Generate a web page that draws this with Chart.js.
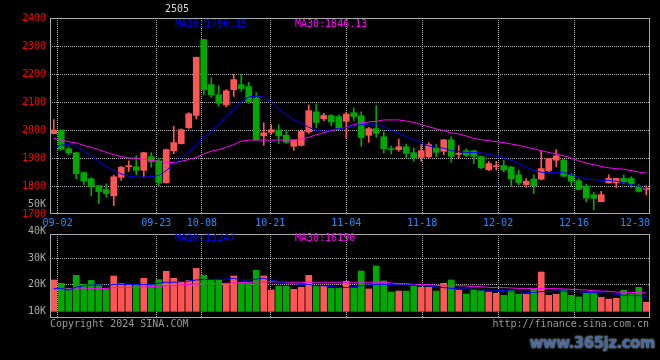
<!DOCTYPE html>
<html>
<head>
<meta charset="utf-8">
<script src="https://cdn.jsdelivr.net/npm/chart.js@4.4.1/dist/chart.umd.min.js"></script>
<style>
  html, body { margin: 0; padding: 0; background: #000; }
  #wrap { position: relative; width: 660px; height: 360px; overflow: hidden; background: #000;
          font-family: "DejaVu Sans Mono", monospace; font-size: 10px; }
  canvas { position: absolute; left: 0; }
  #price { top: 0; }
  #vol { top: 190px; }
  .t { position: absolute; white-space: pre; line-height: 12px; }
</style>
</head>
<body>
<div id="wrap">
  <canvas id="price" width="660" height="232"></canvas>
  <canvas id="vol" width="660" height="170"></canvas>
  <div class="t" style="left:165px;top:3px;color:#d8d8d8">2505</div>
  <div class="t" style="left:175px;top:18px;color:#0000ff">MA10:1790.15</div>
  <div class="t" style="left:295px;top:18px;color:#ff00ff">MA30:1846.13</div>
  <div class="t" style="left:175px;top:232px;color:#0000ff">MA10:13247</div>
  <div class="t" style="left:295px;top:232px;color:#ff00ff">MA30:16190</div>
  <div class="t" style="left:50px;top:318px;color:#999">Copyright 2024 SINA.COM</div>
  <div class="t" style="right:11px;top:318px;color:#999">http://finance.sina.com.cn</div>
  <div class="t" style="right:5px;top:334px;font:bold 15px 'DejaVu Sans';letter-spacing:-0.5px;line-height:18px;color:#46689c;text-shadow:0 0 2px #ccc">www.365jz.com</div>
</div>
<script>
// trading days shown, one candle each
const dates = ['08-30','09-02','09-03','09-04','09-05','09-06','09-09','09-10','09-11','09-12',
  '09-13','09-18','09-19','09-20','09-23','09-24','09-25','09-26','09-27','09-30',
  '10-08','10-09','10-10','10-11','10-14','10-15','10-16','10-17','10-18','10-21',
  '10-22','10-23','10-24','10-25','10-28','10-29','10-30','10-31','11-01','11-04',
  '11-05','11-06','11-07','11-08','11-11','11-12','11-13','11-14','11-15','11-18',
  '11-19','11-20','11-21','11-22','11-25','11-26','11-27','11-28','11-29','12-02',
  '12-03','12-04','12-05','12-06','12-09','12-10','12-11','12-12','12-13','12-16',
  '12-17','12-18','12-19','12-20','12-23','12-24','12-25','12-26','12-27','12-30'];

const opens = [1987,2000,1933,1919,1848,1826,1801,1787,1765,1831, 1869,1869,1856,1905,1890,1812,1926,1951,2008,2052,
  2323,2162,2126,2090,2144,2162,2155,2114,1979,1992, 2000,1981,1942,1945,1993,2065,2040,2052,2048,2031,
  2062,2051,1981,2005,1976,1931,1930,1940,1919,1902, 1905,1936,1924,1965,1913,1926,1926,1905,1858,1869,
  1873,1868,1840,1805,1825,1824,1855,1892,1893,1840, 1819,1800,1769,1744,1811,1811,1827,1827,1798,1788];
const highs = [2037,2000,1940,1921,1850,1830,1802,1808,1839,1870, 1890,1908,1920,1919,1900,1932,2013,2004,2062,2260,
  2323,2187,2158,2144,2199,2199,2170,2133,2026,2019, 2019,2000,1965,2000,2090,2094,2060,2055,2054,2062,
  2079,2065,2010,2087,1994,1943,1968,1950,1936,1948, 1955,1948,1966,1976,1944,1933,1928,1907,1888,1888,
  1892,1870,1857,1826,1840,1924,1899,1930,1895,1845, 1826,1807,1777,1781,1840,1828,1840,1833,1805,1801];
const lows = [1986,1928,1912,1826,1805,1765,1737,1761,1730,1820, 1852,1840,1833,1867,1800,1810,1915,1950,2005,2040,
  2126,2117,2085,2083,2120,2138,2095,1963,1945,1985, 1952,1952,1927,1943,1988,2008,2033,2015,2000,1970,
  2033,1942,1956,1974,1917,1914,1924,1900,1888,1888, 1900,1905,1912,1885,1900,1905,1880,1862,1855,1857,
  1850,1800,1805,1795,1773,1822,1851,1869,1833,1799, 1786,1743,1715,1743,1810,1794,1807,1795,1778,1769];
const closes = [2000,1931,1919,1844,1817,1798,1780,1773,1833,1867, 1869,1856,1919,1886,1812,1930,1955,2001,2058,2260,
  2144,2126,2095,2140,2180,2148,2100,1965,1990,2001, 1979,1956,1964,1995,2069,2027,2052,2029,2007,2057,
  2048,1973,2005,1988,1933,1930,1940,1917,1900,1926, 1948,1920,1965,1906,1915,1910,1906,1865,1880,1870,
  1857,1826,1812,1817,1801,1862,1898,1908,1835,1817, 1788,1757,1756,1769,1827,1827,1815,1807,1781,1790];

const ma10 = [1936,1946,1948,1942,1926,1906,1888,1870,1855,1843, 1835,1832,1832,1833,1838,1855,1879,1898,1921,1948,
  1975,1993,2019,2049,2073,2100,2118,2121,2117,2100, 2075,2055,2037,2024,2010,1998,1995,2001,2005,2009,
  2015,2019,2021,2021,2012,1999,1988,1976,1965,1955, 1943,1938,1935,1926,1923,1920,1920,1918,1912,1908,
  1901,1892,1880,1867,1856,1849,1846,1850,1848,1840, 1832,1826,1823,1820,1820,1817,1812,1805,1799,1790];
const ma30 = [1971,1964,1958,1954,1945,1938,1930,1920,1912,1905, 1900,1899,1895,1892,1888,1885,1883,1888,1895,1902,
  1915,1924,1930,1938,1948,1960,1964,1964,1964,1964, 1964,1964,1964,1967,1974,1983,1990,1998,2004,2010,
  2019,2025,2029,2031,2036,2036,2036,2032,2027,2019, 2012,2004,1998,1990,1986,1979,1970,1965,1962,1958,
  1955,1950,1945,1939,1933,1926,1920,1914,1908,1900, 1890,1882,1876,1870,1865,1862,1860,1855,1850,1846];

// volume, in K
const volumes = [21.75,20.5,18.6,23.5,20.1,21.6,19.9,18.4,23.25,20.4, 19.75,19.9,22.4,20.1,21.9,25.0,22.4,21.1,21.6,26.1,
  23.5,21.75,21.75,20.5,23.25,20.75,20.75,25.4,23.25,18.0, 19.4,19.4,18.25,19.0,23.5,19.4,19.4,18.6,18.6,21.25,
  18.75,25.1,18.4,27.0,21.4,17.25,17.6,17.6,19.6,19.0, 19.0,17.6,20.5,21.75,18.0,16.5,18.0,17.75,17.25,16.75,
  16.0,17.9,16.5,16.4,18.4,24.75,16.0,16.4,18.0,16.0, 15.4,16.75,16.75,15.25,14.6,14.9,17.9,16.6,19.0,13.4];
const volMa10 = [18.6,18.6,17.9,19.1,19.6,19.9,19.9,19.6,20.1,20.1, 20.1,20.1,20.1,20.1,20.6,20.9,20.9,21.1,21.4,21.75,
  22.0,22.0,22.0,22.1,22.4,21.75,21.75,22.1,22.4,21.75, 21.1,20.5,20.4,20.1,20.1,19.6,19.6,19.25,19.0,18.9,
  19.25,19.6,19.9,20.1,20.1,20.1,19.9,19.9,19.9,19.6, 19.6,19.1,18.9,18.6,18.4,18.4,18.25,18.0,18.0,17.9,
  17.75,17.6,17.4,17.1,17.1,17.4,17.4,17.6,17.6,17.5, 17.4,17.1,17.0,16.9,16.75,16.4,16.0,15.9,15.9,15.6];
const volMa30 = [18.1,18.25,18.4,18.4,18.4,18.5,18.5,18.6,18.9,18.9, 18.9,19.0,19.1,19.25,19.4,19.6,19.6,19.9,20.1,20.25,
  20.4,20.4,20.5,20.5,20.6,20.75,20.9,21.0,21.1,21.1, 21.0,20.9,20.9,20.9,20.9,20.9,20.9,20.9,20.9,20.9,
  20.9,20.9,20.9,20.9,20.9,20.6,20.4,20.4,20.1,20.0, 20.0,19.75,19.6,19.6,19.6,19.5,19.25,19.25,19.0,18.9,
  18.9,18.75,18.6,18.6,18.6,18.5,18.5,18.5,18.4,18.25, 18.1,18.0,17.75,17.6,17.5,17.25,17.1,17.1,17.0,16.9];

const dateTickIdx = [1, 14, 20, 29, 39, 49, 59, 69, 79];
const priceTicks = [1700, 1800, 1900, 2000, 2100, 2200, 2300, 2400];
const volTicks = [10, 20, 30, 40, 50];
const volFloor = 10;

const UP = '#ff5555', DOWN = '#00a800';
const GRID = '#b4b4b4';
const font = { family: 'DejaVu Sans Mono', size: 10 };
const colors = closes.map((c, i) => c >= opens[i] ? UP : DOWN);
const xs = dates.map((d, i) => i + 0.5);
const pts = arr => arr.map((v, i) => ({ x: xs[i], y: v }));

// sina spreads the date grid over n-1 steps, candles over n slots
function dateAxis(showLabels) {
  const n = dates.length;
  return {
    type: 'linear', min: 0, max: n, offset: false,
    afterBuildTicks: s => { s.ticks = dateTickIdx.map(i => ({ value: i * n / (n - 1) })); },
    afterFit: s => { s.height = showLabels ? 18 : 0; s.paddingLeft = 0; s.paddingRight = 0; },
    grid: { offset: false, color: c => c.index === dateTickIdx.length - 1 ? 'rgba(0,0,0,0)' : GRID, drawTicks: false },
    border: { display: false, dash: [1, 1] },
    ticks: {
      display: showLabels, autoSkip: false, maxRotation: 0, padding: 3, color: '#1e8fff', font,
      callback: (v, i) => i === dateTickIdx.length - 1 ? dates[dateTickIdx[i]] + '     ' : dates[dateTickIdx[i]]
    }
  };
}

const frame = {
  id: 'frame',
  afterDraw(chart) {
    const a = chart.chartArea, ctx = chart.ctx;
    ctx.save();
    ctx.strokeStyle = '#aaaaaa';
    ctx.lineWidth = 1;
    ctx.strokeRect(a.left + 0.5, a.top + 0.5, a.right - a.left - 1, a.bottom - a.top - 1);
    ctx.restore();
  }
};

const common = {
  responsive: false, animation: false, devicePixelRatio: 1,
  plugins: { legend: { display: false }, tooltip: { enabled: false } }
};

new Chart(document.getElementById('price'), {
  type: 'bar',
  data: {
    datasets: [
      { type: 'line', data: pts(ma10), borderColor: '#0000ff', borderWidth: 1, pointRadius: 0, order: 0 },
      { type: 'line', data: pts(ma30), borderColor: '#ff00ff', borderWidth: 1, pointRadius: 0, order: 0 },
      { data: xs.map((x, i) => ({ x, y: [opens[i], closes[i]] })), backgroundColor: colors,
        barThickness: 6, minBarLength: 1, grouped: false, order: 1 },
      { data: xs.map((x, i) => ({ x, y: [lows[i], highs[i]] })), backgroundColor: colors,
        barThickness: 1, grouped: false, order: 2 }
    ]
  },
  options: {
    ...common,
    layout: { padding: { top: 18, right: 10, left: 0, bottom: 0 } },
    scales: {
      x: dateAxis(true),
      y: {
        min: 1700, max: 2400,
        afterBuildTicks: s => { s.ticks = priceTicks.map(v => ({ value: v })); },
        afterFit: s => { s.width = 50; },
        grid: { color: c => (c.tick && (c.tick.value === 1700 || c.tick.value === 2400)) ? 'rgba(0,0,0,0)' : GRID, drawTicks: false },
        border: { display: false, dash: [1, 1] },
        ticks: { color: '#ff0000', font, padding: 4, callback: v => String(v) }
      }
    }
  },
  plugins: [frame]
});

new Chart(document.getElementById('vol'), {
  type: 'bar',
  data: {
    datasets: [
      { type: 'line', data: pts(volMa10), borderColor: '#0000ff', borderWidth: 1, pointRadius: 0, order: 0 },
      { type: 'line', data: pts(volMa30), borderColor: '#ff00ff', borderWidth: 1, pointRadius: 0, order: 0 },
      { data: xs.map((x, i) => ({ x, y: [volFloor, volumes[i]] })), backgroundColor: colors,
        barThickness: 6, grouped: false, order: 1 }
    ]
  },
  options: {
    ...common,
    layout: { padding: { top: 44, right: 10, left: 0, bottom: 42 } },
    scales: {
      x: dateAxis(false),
      y: {
        min: 7.5, max: 39,
        afterBuildTicks: s => { s.ticks = volTicks.map(v => ({ value: v })); },
        afterFit: s => { s.width = 50; },
        grid: { color: c => (c.tick && (c.tick.value === 20 || c.tick.value === 30)) ? GRID : 'rgba(0,0,0,0)', drawTicks: false },
        border: { display: false, dash: [1, 1] },
        ticks: { color: '#aaaaaa', font, padding: 4, autoSkip: false, callback: v => v + 'K' }
      }
    }
  },
  plugins: [frame]
});
</script>
</body>
</html>
